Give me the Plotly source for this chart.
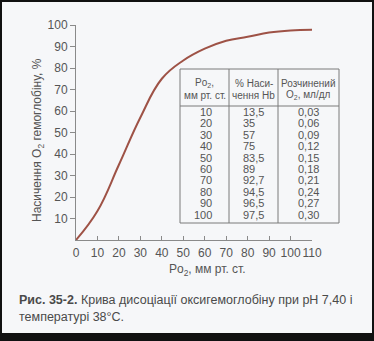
import plotly.graph_objects as go

# Oxyhemoglobin dissociation data (pH 7.40, 38 °C)
po2_rows = [10, 20, 30, 40, 50, 60, 70, 80, 90, 100]
saturation_rows = [13.5, 35, 57, 75, 83.5, 89, 92.7, 94.5, 96.5, 97.5]
dissolved_o2_rows = ["0,03", "0,06", "0,09", "0,12", "0,15", "0,18", "0,21", "0,24", "0,27", "0,30"]
sat_row_labels = ["13,5", "35", "57", "75", "83,5", "89", "92,7", "94,5", "96,5", "97,5"]

curve_start = (0, 0)
curve_end = (110, 97.8)

x_ticks = list(range(0, 111, 10))
y_ticks = list(range(10, 101, 10))

W, H = 374, 341
ML, MR, MT, MB = 76, 62, 25, 101
PW, PH = W - ML - MR, H - MT - MB

PAGE = "#f6f7f9"
AXIS = "#8a8a8a"
TXT = "#555555"
CURVE = "#9e5246"
FONT = "Liberation Sans, Arial, sans-serif"


def px(x):
    return (x - ML) / PW


def py(y):
    return (H - MB - y) / PH


curve_x = [curve_start[0]] + po2_rows + [curve_end[0]]
curve_y = [curve_start[1]] + saturation_rows + [curve_end[1]]

fig = go.Figure()
fig.add_trace(go.Scatter(
    x=curve_x, y=curve_y, mode="lines",
    line=dict(color=CURVE, width=2, shape="spline", smoothing=1.2),
    cliponaxis=False, hoverinfo="skip", showlegend=False,
))

shapes = []
annotations = []

# table frame and rules
tl, tr, tt, tb = 180, 339, 69, 223
c1, c2 = 229, 278
hdr = 106
line = dict(color="#7a7a7a", width=1)
shapes.append(dict(type="rect", xref="paper", yref="paper",
                   x0=px(tl), x1=px(tr), y0=py(tb), y1=py(tt),
                   line=line, fillcolor=PAGE, layer="above"))
for cx in (c1, c2):
    shapes.append(dict(type="line", xref="paper", yref="paper",
                       x0=px(cx), x1=px(cx), y0=py(tb), y1=py(tt), line=line))
shapes.append(dict(type="line", xref="paper", yref="paper",
                   x0=px(tl), x1=px(tr), y0=py(hdr), y1=py(hdr), line=line))


def note(x, y, text, size=11, xanchor="center", color=TXT, angle=0):
    annotations.append(dict(
        x=px(x), y=py(y), xref="paper", yref="paper", text=text,
        showarrow=False, xanchor=xanchor, yanchor="middle", textangle=angle,
        font=dict(family=FONT, size=size, color=color),
    ))


# header cells
note((tl + c1) / 2, 83, "Po<sub>2</sub>,", size=10)
note((tl + c1) / 2, 95, "мм рт. ст.", size=10)
note((c1 + c2) / 2, 83, "% Наси-", size=10)
note((c1 + c2) / 2, 95, "чення Hb", size=10)
note((c2 + tr) / 2, 83, "Розчинений", size=10)
note((c2 + tr) / 2, 95, "O<sub>2</sub>, мл/дл", size=10)

# body rows
row0, step = 112, 11.4
for i, (p, s, d) in enumerate(zip(po2_rows, sat_row_labels, dissolved_o2_rows)):
    yy = row0 + i * step
    note(214, yy, str(p), xanchor="right")
    note(241, yy, s, xanchor="left")
    note((c2 + tr) / 2, yy, d)

# axis titles
note(38, 140, "Насичення O<sub>2</sub> гемоглобіну, %", size=12, angle=-90)
note(207, 270, "Po<sub>2</sub>, мм рт. ст.", size=12)

# figure caption
note(17, 300, "<b>Рис. 35-2.</b> Крива дисоціації оксигемоглобіну при pH 7,40 і",
     size=12.5, xanchor="left", color="#4a4a4a")
note(17, 317, "температурі 38°С.", size=12.5, xanchor="left", color="#4a4a4a")

# dark scan border
for x0, x1, y0, y1 in [(0, W, 0, 2), (0, 2, 0, H), (W - 2, W, 0, H), (0, W, 333, H)]:
    shapes.append(dict(type="rect", xref="paper", yref="paper",
                       x0=px(x0), x1=px(x1), y0=py(y1), y1=py(y0),
                       line=dict(width=0), fillcolor="#111111", layer="above"))

fig.update_layout(
    width=W, height=H,
    margin=dict(l=ML, r=MR, t=MT, b=MB, pad=0),
    paper_bgcolor=PAGE, plot_bgcolor=PAGE,
    font=dict(family=FONT, size=12, color=TXT),
    shapes=shapes, annotations=annotations,
    xaxis=dict(range=[0, 110], tickvals=x_ticks, ticktext=[str(v) for v in x_ticks],
               tickangle=0,
               showgrid=False, zeroline=False, showline=True, linecolor=AXIS, linewidth=1,
               ticks="inside", ticklen=4, tickcolor=AXIS, ticklabelstandoff=2,
               tickfont=dict(size=12, color=TXT)),
    yaxis=dict(range=[0, 100], tickvals=y_ticks, ticktext=[str(v) for v in y_ticks],
               showgrid=False, zeroline=False, showline=True, linecolor=AXIS, linewidth=1,
               ticks="outside", ticklen=5, tickcolor=AXIS,
               tickfont=dict(size=12, color=TXT)),
)

fig.write_html("out.html")
